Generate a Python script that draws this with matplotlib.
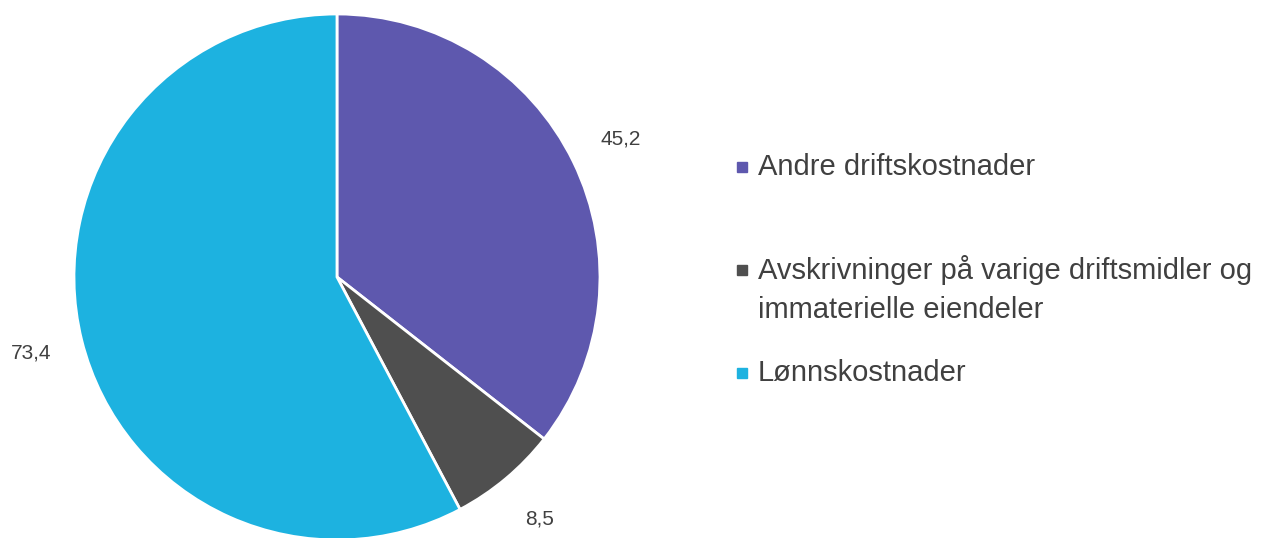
import numpy as np
import matplotlib
matplotlib.use('Agg')
import matplotlib.pyplot as plt
from matplotlib.patches import Rectangle

labels = ['Andre driftskostnader',
          'Avskrivninger på varige driftsmidler og\nimmaterielle eiendeler',
          'Lønnskostnader']
values = [45.2, 8.5, 73.4]
value_text = ['45,2', '8,5', '73,4']
colors = ['#5E58AE', '#4F4F4F', '#1DB2E0']

plt.rcParams['font.family'] = ['Liberation Sans', 'DejaVu Sans']

fig = plt.figure(figsize=(12.69, 5.38), dpi=100)
ax = fig.add_axes([0.0583, -0.0037, 0.4145, 0.9777])

wedges, _ = ax.pie(values, colors=colors, startangle=90, counterclock=False,
                   wedgeprops={'edgecolor': 'white', 'linewidth': 2})
ax.set_xlim(-1, 1)
ax.set_ylim(-1, 1)
ax.set_aspect('equal')

# data labels outside each wedge
for w, t in zip(wedges, value_text):
    mid = np.deg2rad((w.theta1 + w.theta2) / 2)
    ax.text(1.2 * np.cos(mid), 1.2 * np.sin(mid), t, ha='center', va='center',
            fontsize=15, color='#404040', clip_on=False)

# legend drawn by hand to keep the uneven spacing
W, H = 1269, 538
rows = [(167, [167]), (270, [270, 310]), (373, [373])]
for (ymark, ylines), lab, c in zip(rows, labels, colors):
    fig.patches.append(Rectangle((737 / W, 1 - (ymark + 5) / H), 10 / W, 10 / H,
                                 transform=fig.transFigure, color=c))
    for y, line in zip(ylines, lab.split('\n')):
        fig.text(758 / W, 1 - y / H, line, ha='left', va='center',
                 fontsize=21, color='#404040')

fig.savefig('out.png', dpi=100)
